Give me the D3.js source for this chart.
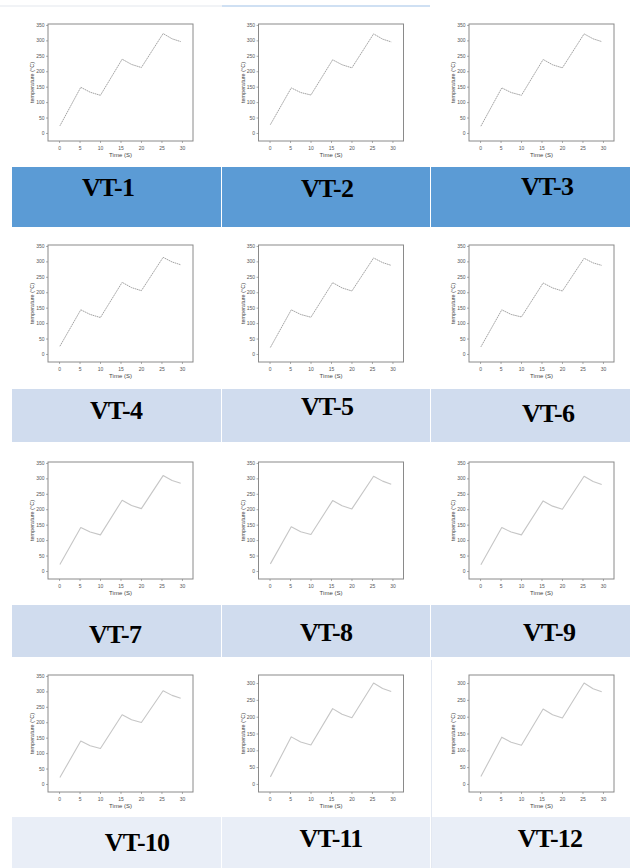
<!DOCTYPE html>
<html>
<head>
<meta charset="utf-8">
<script src="https://cdn.jsdelivr.net/npm/d3@7"></script>
<style>
  html, body { margin: 0; padding: 0; background: #fff; }
  svg { display: block; }
</style>
</head>
<body>
<script>
// Sample times (s) shared by every run
const time = [0.2, 5.3, 7.6, 10.1, 15.4, 17.7, 20.1, 25.4, 27.6, 29.7];

// Temperature (°C) for each run
const vt1  = [23, 148, 132, 122, 239, 222, 212, 322, 305, 296];
const vt2  = [27, 146, 131, 123, 237, 221, 211, 321, 304, 295];
const vt3  = [22, 146, 131, 122, 238, 221, 211, 321, 305, 296];
const vt4  = [25, 143, 128, 118, 232, 215, 205, 313, 298, 289];
const vt5  = [21, 143, 128, 119, 231, 214, 204, 311, 296, 287];
const vt6  = [23, 143, 128, 120, 230, 214, 204, 310, 295, 287];
const vt7  = [21, 141, 126, 117, 229, 212, 202, 309, 293, 284];
const vt8  = [23, 143, 127, 118, 228, 211, 201, 307, 291, 281];
const vt9  = [20, 141, 126, 117, 227, 210, 200, 307, 290, 280];
const vt10 = [21, 139, 124, 115, 224, 208, 199, 302, 287, 278];
const vt11 = [21, 140, 125, 116, 224, 207, 197, 300, 284, 275];
const vt12 = [22, 139, 124, 115, 223, 206, 196, 300, 283, 274];

const runNames = ["VT-1", "VT-2", "VT-3", "VT-4", "VT-5", "VT-6",
                  "VT-7", "VT-8", "VT-9", "VT-10", "VT-11", "VT-12"];
const runSeries = [vt1, vt2, vt3, vt4, vt5, vt6, vt7, vt8, vt9, vt10, vt11, vt12];

// Axis ticks
const xTicks = [0, 5, 10, 15, 20, 25, 30];
const yTicksTall = [0, 50, 100, 150, 200, 250, 300, 350];
const yTicksShort = [0, 50, 100, 150, 200, 250, 300];

const W = 630, H = 868;
const svg = d3.select("body").append("svg")
  .attr("width", W).attr("height", H)
  .style("font-family", "'Liberation Sans', Arial, sans-serif");

// ---- grid layout ----
const colX = [48, 258.5, 469];          // plot frame left edges
const rowY = [24, 245, 462, 675];        // plot frame top edges
const frameW = 145, frameH = 117;

const barCols = [[12, 209], [222, 208], [431, 199]];
const barRows = [[167, 60], [389, 53], [605, 52], [817, 51]];
const barFill = ["#5b9bd5", "#d0dcee", "#d0dcee", "#e9eef7"];
const labelPos = [
  [108, 196], [327, 197], [547, 195],
  [116, 419], [327, 415], [548, 422],
  [115, 643], [326, 641], [549, 641],
  [137, 851], [331, 847], [550, 847]
];

// faint rule along the top of the page
svg.append("line").attr("x1", 0).attr("x2", 222).attr("y1", 6).attr("y2", 6)
  .attr("stroke", "#f1f3f6").attr("stroke-width", 2);
svg.append("line").attr("x1", 222).attr("x2", 430).attr("y1", 6).attr("y2", 6)
  .attr("stroke", "#cfe0f3").attr("stroke-width", 2);

// ---- label bars ----
barRows.forEach((r, ri) => {
  barCols.forEach((c, ci) => {
    svg.append("rect")
      .attr("x", c[0]).attr("y", r[0])
      .attr("width", c[1]).attr("height", r[1])
      .attr("fill", barFill[ri]);
  });
});
// thin divider running down the last row
svg.append("line").attr("x1", 431.5).attr("x2", 431.5).attr("y1", 660).attr("y2", H)
  .attr("stroke", "#e3e8f1").attr("stroke-width", 1);

runNames.forEach((name, i) => {
  svg.append("text")
    .attr("x", labelPos[i][0]).attr("y", labelPos[i][1])
    .attr("text-anchor", "middle")
    .style("font-family", "'Liberation Serif', 'Times New Roman', serif")
    .style("font-weight", "bold")
    .style("font-size", "26px")
    .style("letter-spacing", "-0.8px")
    .attr("fill", "#000")
    .text(name);
});

// ---- small temperature charts ----
runSeries.forEach((vals, i) => {
  const row = Math.floor(i / 3), col = i % 3;
  const x0 = colX[col], y0 = rowY[row];
  const shortAxis = i >= 10;
  const yTicks = shortAxis ? yTicksShort : yTicksTall;

  const x = d3.scaleLinear().domain([-2.7, 32.7]).range([x0, x0 + frameW]);
  const y = shortAxis
    ? d3.scaleLinear().domain([-24, 324]).range([y0 + frameH, y0])
    : d3.scaleLinear().domain([-26, 353]).range([y0 + frameH, y0]);

  const g = svg.append("g");

  g.append("rect")
    .attr("x", x0).attr("y", y0).attr("width", frameW).attr("height", frameH)
    .attr("fill", "#fff").attr("stroke", "#8a8a8a").attr("stroke-width", 1);

  const yAxis = g.append("g").attr("transform", `translate(${x0},0)`)
    .call(d3.axisLeft(y).tickValues(yTicks).tickSize(2).tickPadding(1.5));
  const xAxis = g.append("g").attr("transform", `translate(0,${y0 + frameH})`)
    .call(d3.axisBottom(x).tickValues(xTicks).tickSize(2).tickPadding(3));

  [yAxis, xAxis].forEach(a => {
    a.select(".domain").remove();
    a.selectAll(".tick line").attr("stroke", "#777").attr("stroke-width", 0.6);
    a.selectAll(".tick text")
      .attr("fill", "#555")
      .style("font-size", "5px")
      .style("font-family", "'Liberation Sans', Arial, sans-serif");
  });

  g.append("text")
    .attr("x", x0 + frameW / 2).attr("y", y0 + frameH + 16)
    .attr("text-anchor", "middle")
    .attr("fill", "#444").style("font-size", "6px")
    .text("Time (S)");

  g.append("text")
    .attr("transform", `translate(${x0 - 14},${y0 + frameH / 2}) rotate(-90)`)
    .attr("text-anchor", "middle")
    .attr("fill", "#444").style("font-size", "5.5px")
    .text("temperature (°C)");

  const pts = time.map((t, k) => [t, vals[k]]);
  const line = d3.line().x(d => x(d[0])).y(d => y(d[1])).curve(d3.curveLinear);

  const path = g.append("path").datum(pts).attr("d", line).attr("fill", "none")
    .attr("stroke-linejoin", "round");
  if (row < 2) {
    path.attr("stroke", "#8c8c8c").attr("stroke-width", 0.8)
      .attr("stroke-dasharray", "1.6 0.6");
  } else {
    path.attr("stroke", "#c6c6c6").attr("stroke-width", 1.1);
  }
});
</script>
</body>
</html>
